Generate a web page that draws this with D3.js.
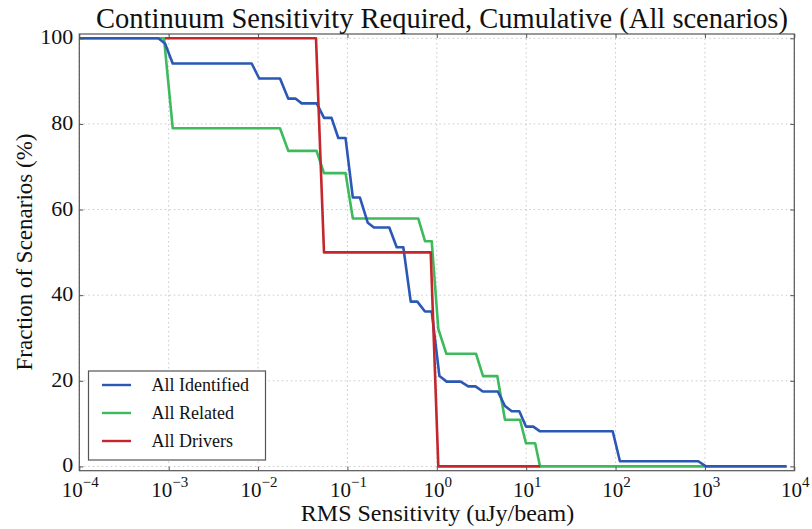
<!DOCTYPE html>
<html>
<head>
<meta charset="utf-8">
<script src="https://cdn.jsdelivr.net/npm/d3@7"></script>
<style>
  html, body { margin: 0; padding: 0; background: #fff; }
  svg { display: block; }
  text { font-family: "Liberation Serif", "DejaVu Serif", serif; fill: #111; }
</style>
</head>
<body>
<svg id="chart" width="812" height="529"></svg>
<script>
// ---------------- data ----------------
const seriesNames = ["All Identified", "All Related", "All Drivers"];

const identifiedX = [1e-4, 7.66e-4, 9.10e-4, 1.11e-3, 8.49e-3, 1.03e-2, 1.76e-2, 2.18e-2, 2.64e-2, 3.08e-2,
  4.53e-2, 5.47e-2, 6.64e-2, 7.91e-2, 9.53e-2, 0.115, 0.138, 0.169, 0.198, 0.294, 0.356, 0.422, 0.511,
  0.605, 0.738, 0.877, 1.07, 1.29, 1.85, 2.25, 2.71, 3.27, 4.82, 5.79, 6.89, 8.38, 9.95, 12.0, 14.3,
  92.9, 112, 843, 1028, 8222];
const identifiedY = [100, 100, 98.8, 94.1, 94.1, 90.6, 90.6, 85.9, 85.9, 84.8,
  84.8, 81.4, 81.4, 76.7, 76.7, 62.8, 62.8, 56.9, 55.8, 55.8, 51.2, 51.2, 38.5,
  38.5, 36.2, 36.2, 21.1, 19.8, 19.8, 18.7, 18.7, 17.5, 17.5, 14.1, 12.9, 12.9, 9.3, 9.3, 8.2,
  8.2, 1.2, 1.2, 0, 0];

const relatedX = [1e-4, 8.87e-4, 1.11e-3, 1.76e-2, 2.18e-2, 4.51e-2, 5.47e-2, 9.53e-2, 0.115, 0.621,
  0.738, 0.877, 1.04, 1.28, 2.75, 3.29, 4.75, 5.79, 8.53, 9.95, 12.6, 14.3, 998];
const relatedY = [100, 100, 79.0, 79.0, 73.7, 73.7, 68.5, 68.5, 57.9, 57.9,
  52.6, 52.6, 32.1, 26.3, 26.3, 21.1, 21.1, 10.9, 10.9, 5.4, 5.4, 0, 0];

const driversX = [9.10e-4, 4.45e-2, 5.47e-2, 0.855, 1.04, 14.3];
const driversY = [100, 100, 50.0, 50.0, 0, 0];

const xTickExponents = [-4, -3, -2, -1, 0, 1, 2, 3, 4];
const yTickValues = [0, 20, 40, 60, 80, 100];

const colors = { identified: "#2a58b4", related: "#3dbb5c", drivers: "#c4262d" };

const titleText = "Continuum Sensitivity Required, Cumulative (All scenarios)";
const xLabelText = "RMS Sensitivity (uJy/beam)";
const yLabelText = "Fraction of Scenarios (%)";

// ---------------- layout ----------------
const svg = d3.select("#chart");
const pL = 79.3, pR = 794.3, pT = 34, pB = 470.7;

const x = d3.scaleLog().domain([1e-4, 1e4]).range([pL, pR]);
const y = d3.scaleLinear().domain([-1, 101]).range([pB, pT]);

// grid
const grid = svg.append("g").attr("class", "grid");
grid.selectAll("line.vg").data(xTickExponents).enter().append("line")
  .attr("x1", d => x(Math.pow(10, d))).attr("x2", d => x(Math.pow(10, d)))
  .attr("y1", pT).attr("y2", pB)
  .attr("stroke", "#c8c8c8").attr("stroke-width", 1).attr("stroke-dasharray", "1.5,3");
grid.selectAll("line.hg").data(yTickValues).enter().append("line")
  .attr("x1", pL).attr("x2", pR)
  .attr("y1", d => y(d)).attr("y2", d => y(d))
  .attr("stroke", "#c8c8c8").attr("stroke-width", 1).attr("stroke-dasharray", "1.5,3");

// lines
const line = d3.line().x(d => x(d[0])).y(d => y(d[1]));
function zip(a, b) { return a.map((v, i) => [v, b[i]]); }
const plotG = svg.append("g");
const drawOrder = [
  [zip(relatedX, relatedY), colors.related],
  [zip(identifiedX, identifiedY), colors.identified],
  [zip(driversX, driversY), colors.drivers]
];
drawOrder.forEach(([pts, c]) => {
  plotG.append("path").datum(pts).attr("d", line)
    .attr("fill", "none").attr("stroke", c).attr("stroke-width", 2.6)
    .attr("stroke-linejoin", "round").attr("stroke-linecap", "butt");
});

// axes (ticks inside, no labels from axis; custom labels)
const tickLen = 4;
const xAxisB = d3.axisBottom(x).tickValues(xTickExponents.map(e => Math.pow(10, e))).tickSize(-tickLen).tickFormat("");
const xAxisT = d3.axisTop(x).tickValues(xTickExponents.map(e => Math.pow(10, e))).tickSize(-tickLen).tickFormat("");
const yAxisL = d3.axisLeft(y).tickValues(yTickValues).tickSize(-tickLen).tickFormat("");
const yAxisR = d3.axisRight(y).tickValues(yTickValues).tickSize(-tickLen).tickFormat("");
[[xAxisB, `translate(0,${pB})`], [xAxisT, `translate(0,${pT})`],
 [yAxisL, `translate(${pL},0)`], [yAxisR, `translate(${pR},0)`]].forEach(([ax, tr]) => {
  const g = svg.append("g").attr("transform", tr).call(ax);
  g.select(".domain").remove();
  g.selectAll(".tick line").attr("stroke", "#555").attr("stroke-width", 1);
});

// frame
svg.append("rect").attr("x", pL).attr("y", pT)
  .attr("width", pR - pL).attr("height", pB - pT)
  .attr("fill", "none").attr("stroke", "#555").attr("stroke-width", 1.2);

// x tick labels
const xl = svg.append("g");
xTickExponents.forEach(e => {
  const t = xl.append("text").attr("x", x(Math.pow(10, e)) + 1).attr("y", 496.5)
    .attr("text-anchor", "middle").attr("font-size", 21);
  t.append("tspan").text("10");
  t.append("tspan").attr("dy", -9.5).attr("font-size", 15).text(e < 0 ? "\u2212" + Math.abs(e) : String(e));
});

// y tick labels
svg.append("g").selectAll("text").data(yTickValues).enter().append("text")
  .attr("x", pL - 6).attr("y", d => y(d) + 6)
  .attr("text-anchor", "end").attr("font-size", 22)
  .text(d => d);

// title & axis labels
svg.append("text").attr("x", 442).attr("y", 28)
  .attr("text-anchor", "middle").attr("font-size", 28.5).text(titleText);
svg.append("text").attr("x", 437.5).attr("y", 521)
  .attr("text-anchor", "middle").attr("font-size", 24).text(xLabelText);
svg.append("text").attr("transform", `translate(32,252) rotate(-90)`)
  .attr("text-anchor", "middle").attr("font-size", 23).text(yLabelText);

// legend
const lg = svg.append("g");
lg.append("rect").attr("x", 88.5).attr("y", 371).attr("width", 177).attr("height", 89)
  .attr("fill", "#fff").attr("stroke", "#555").attr("stroke-width", 1.2);
const legendItems = [
  [seriesNames[0], colors.identified],
  [seriesNames[1], colors.related],
  [seriesNames[2], colors.drivers]
];
legendItems.forEach(([name, c], i) => {
  const yy = 385 + i * 28;
  lg.append("line").attr("x1", 102).attr("x2", 131).attr("y1", yy).attr("y2", yy)
    .attr("stroke", c).attr("stroke-width", 2.4);
  lg.append("text").attr("x", 151.5).attr("y", yy + 6).attr("font-size", 18).text(name);
});
</script>
</body>
</html>
